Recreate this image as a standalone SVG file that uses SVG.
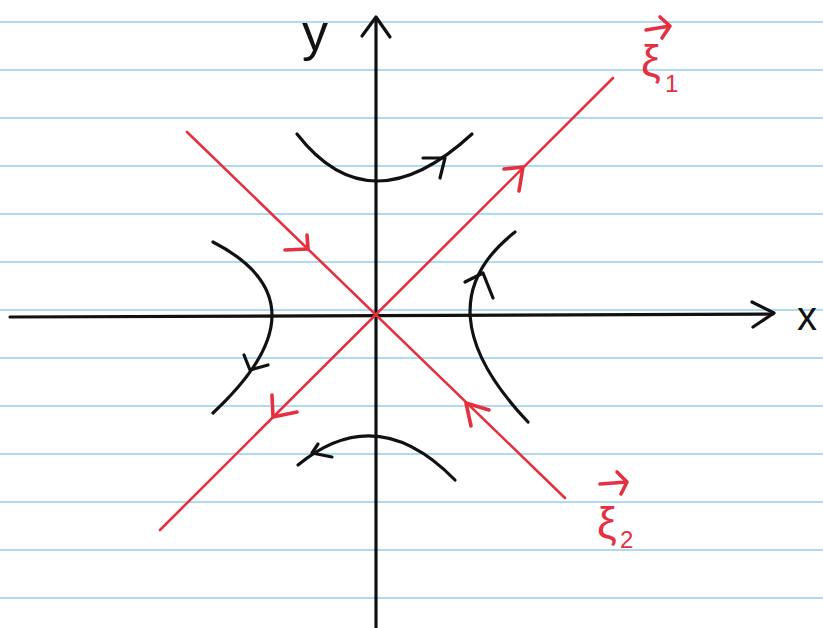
<svg xmlns="http://www.w3.org/2000/svg" width="823" height="628" viewBox="0 0 823 628">
<style>
.rule{stroke:#97cfe8;stroke-width:1.6;fill:none}
.ink{stroke:#111;stroke-width:3.2;fill:none;stroke-linecap:round;stroke-linejoin:round}
.red{stroke:#e5303f;stroke-width:2.6;fill:none;stroke-linecap:round;stroke-linejoin:round}
.redw{stroke:#e5303f;stroke-width:3.6;fill:none;stroke-linecap:round;stroke-linejoin:round}
.lbl{font-family:"Liberation Sans",Arial,sans-serif;fill:#111}
.rlbl{font-family:"Liberation Sans",Arial,sans-serif;fill:#e5303f}
</style>
<rect width="823" height="628" fill="#fff"/>
<g id="paper-lines">
<path class="rule" d="M0 22H823M0 70H823M0 118H823M0 166H823M0 214H823M0 262H823M0 310H823M0 358H823M0 406H823M0 454H823M0 502H823M0 550H823M0 598H823"/>
</g>
<g id="axes">
<path class="ink" d="M10 317 L773 314"/>
<path class="ink" d="M752 302 L774 313 L753 327"/>
<path class="ink" d="M376 627 L376 18"/>
<path class="ink" d="M362 36 L376 17 L390 37"/>
<text class="lbl" x="797" y="330" font-size="40">x</text>
<text class="lbl" x="302" y="50" font-size="52">y</text>
</g>
<g id="eigenvectors">
<path class="red" d="M160 530 L613 78"/>
<path class="red" d="M187 132 L565 498"/>
<path class="redw" d="M504 169 L523 167 L519 191"/>
<path class="redw" d="M272 395 L273 417 L297 412"/>
<path class="redw" d="M285 250 L308 249 L307 235"/>
<path class="redw" d="M489 410 L466 403 L471 426"/>
</g>
<g id="xi1">
<text class="rlbl" x="641" y="76" font-size="44">ξ</text>
<text class="rlbl" x="665" y="92" font-size="24">1</text>
<path class="redw" d="M646 30 L670 26 M660 17 L670 26 L662 38"/>
</g>
<g id="xi2">
<text class="rlbl" x="597" y="538" font-size="44">ξ</text>
<text class="rlbl" x="620" y="548" font-size="24">2</text>
<path class="redw" d="M600 484 L627 482 M617 472 L627 482 L621 494"/>
</g>
<g id="trajectories">
<path class="ink" d="M297 134 Q370 228 472 134"/>
<path class="ink" d="M423 158 L445 158 L440 178"/>
<path class="ink" d="M213 242 Q331 303 213 413"/>
<path class="ink" d="M244 355 L250 370 L268 365"/>
<path class="ink" d="M515 232 Q419 307 528 422"/>
<path class="ink" d="M465 282 L483 273 L493 298"/>
<path class="ink" d="M298 465 Q377 400 455 480"/>
<path class="ink" d="M318 444 L312 453 L332 457"/>
</g>
</svg>
